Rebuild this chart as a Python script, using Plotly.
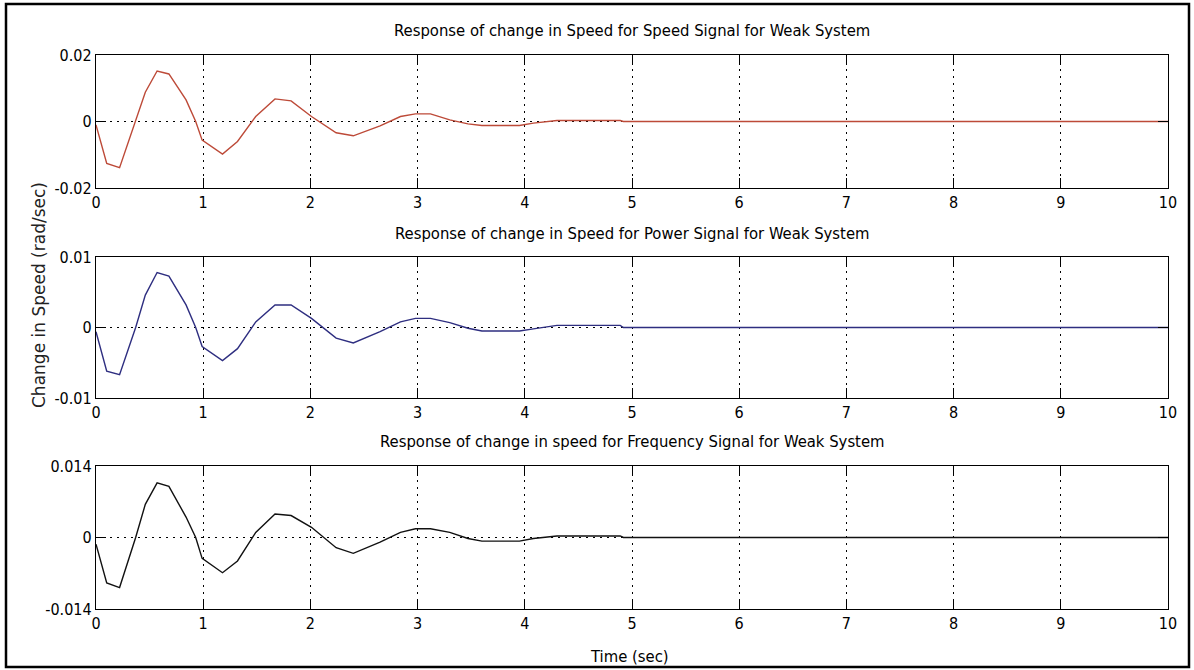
import plotly.graph_objects as go

# ---- data ----
time_s = [0, 0.10, 0.22, 0.37, 0.46, 0.57, 0.68, 0.84, 0.93, 0.99, 1.18, 1.32, 1.49,
          1.67, 1.82, 2.01, 2.24, 2.40, 2.65, 2.84, 2.98, 3.12, 3.30, 3.47, 3.60,
          3.95, 4.08, 4.30, 4.89, 4.92, 10]

speed_signal = [-0.0010, -0.0126, -0.0139, 0.0, 0.0088, 0.0152, 0.0143, 0.0065, 0.0,
                -0.0056, -0.0098, -0.0060, 0.0015, 0.0068, 0.0062, 0.0015, -0.0034,
                -0.0043, -0.0013, 0.0015, 0.0023, 0.0023, 0.0005, -0.0007, -0.0012,
                -0.0012, -0.0005, 0.0003, 0.0003, 0.0, 0.0]

power_signal = [-0.0006, -0.0062, -0.0067, 0.0, 0.0046, 0.0078, 0.0073, 0.0032, 0.0,
                -0.0027, -0.0047, -0.0030, 0.0008, 0.0032, 0.0032, 0.0013, -0.0015,
                -0.0022, -0.0006, 0.0008, 0.0013, 0.0013, 0.0007, -0.0001, -0.0005,
                -0.0005, -0.0002, 0.0003, 0.0003, 0.0, 0.0]

freq_signal = [-0.0013, -0.0089, -0.0098, 0.0, 0.0065, 0.0107, 0.0100, 0.0040, 0.0,
               -0.0041, -0.0069, -0.0046, 0.0010, 0.0046, 0.0043, 0.0020, -0.0020,
               -0.0031, -0.0009, 0.0010, 0.0017, 0.0017, 0.0010, -0.0002, -0.0007,
               -0.0007, -0.0002, 0.0003, 0.0003, 0.0, 0.0]

titles = ["Response of change in Speed for Speed Signal for Weak System",
          "Response of change in Speed for Power Signal for Weak System",
          "Response of change in speed for Frequency Signal for Weak System"]

x_ticks = list(range(0, 11))
y_ticks = [[-0.02, 0, 0.02], [-0.01, 0, 0.01], [-0.014, 0, 0.014]]
y_ticktext = [["-0.02", "0", "0.02"], ["-0.01", "0", "0.01"], ["-0.014", "0", "0.014"]]
colors = ["#bd4a38", "#2e2e80", "#111111"]
series = [speed_signal, power_signal, freq_signal]

# ---- layout geometry ----
W, H = 1194, 670
L, R, T, B = 96, 26, 55, 61
pw, ph = W - L - R, H - T - B


def py(ypix):
    return (H - B - ypix) / ph


def px(xpix):
    return (xpix - L) / pw


domains = [[py(188), 1.0], [py(398), py(257)], [0.0, py(466)]]
title_y = [30, 233, 442]

NARROW = "DejaVu Sans Condensed, Liberation Sans Narrow, sans-serif"

fig = go.Figure()
for i in range(3):
    sfx = "" if i == 0 else str(i + 1)
    fig.add_trace(go.Scatter(x=time_s, y=series[i], mode="lines",
                             line=dict(color=colors[i], width=1.4),
                             xaxis="x" + sfx, yaxis="y" + sfx, showlegend=False))
    fig.layout["xaxis" + sfx] = dict(
        domain=[0, 1], anchor="y" + sfx, range=[0, 10], tickvals=x_ticks,
        ticks="inside", ticklen=10, tickcolor="black", tickwidth=1,
        showline=True, linecolor="black", linewidth=1.3, mirror="ticks",
        showgrid=True, gridcolor="black", gridwidth=1, griddash="2px,5px",
        zeroline=False, tickfont=dict(family=NARROW, size=16, color="black"),
        fixedrange=True)
    fig.layout["yaxis" + sfx] = dict(
        domain=domains[i], anchor="x" + sfx, range=[y_ticks[i][0], y_ticks[i][2]],
        tickvals=y_ticks[i], ticktext=y_ticktext[i],
        ticks="inside", ticklen=10, tickcolor="black", tickwidth=1,
        showline=True, linecolor="black", linewidth=1.3, mirror="ticks",
        showgrid=True, gridcolor="black", gridwidth=1, griddash="2px,5px",
        zeroline=False, tickfont=dict(family=NARROW, size=16, color="black"),
        fixedrange=True)
    fig.add_annotation(text=titles[i], xref="paper", yref="paper",
                       x=px(632), y=py(title_y[i]), showarrow=False,
                       xanchor="center", yanchor="middle",
                       font=dict(family=NARROW, size=16.5, color="black"))

fig.add_annotation(text="Time (sec)", xref="paper", yref="paper",
                   x=px(629), y=py(656), showarrow=False, xanchor="center",
                   yanchor="middle", font=dict(family=NARROW, size=16.5, color="black"))
fig.add_annotation(text="Change in Speed (rad/sec)", xref="paper", yref="paper",
                   x=px(39), y=py(295), showarrow=False, textangle=-90,
                   xanchor="center", yanchor="middle",
                   font=dict(family="DejaVu Sans, Verdana, sans-serif", size=17,
                             color="#222222"))

fig.add_shape(type="rect", xref="paper", yref="paper",
              x0=px(6), x1=px(1189), y0=py(667), y1=py(4),
              line=dict(color="black", width=2.5), fillcolor="rgba(0,0,0,0)")

fig.update_layout(width=W, height=H, margin=dict(l=L, r=R, t=T, b=B),
                  paper_bgcolor="white", plot_bgcolor="white")

fig.write_html("out.html", config={"displayModeBar": False})
